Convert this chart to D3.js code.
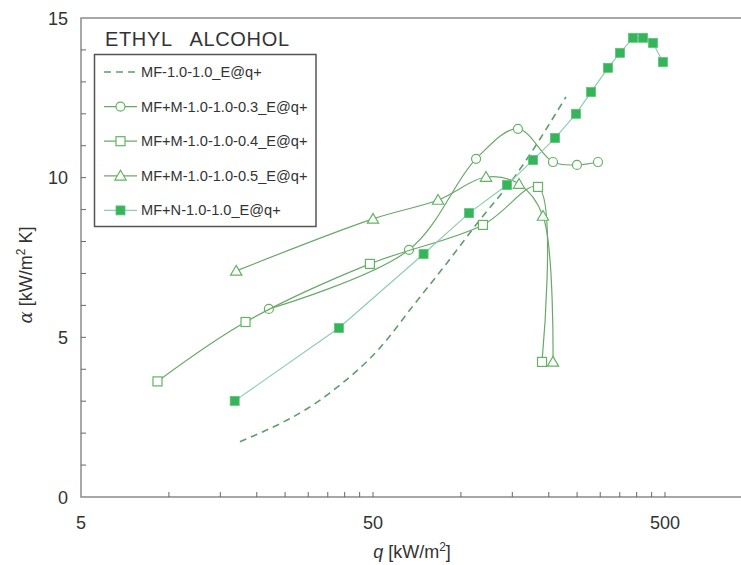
<!DOCTYPE html>
<html lang="en">
<head>
<meta charset="utf-8">
<title>Ethyl alcohol</title>
<script src="https://d3js.org/d3.v7.min.js"></script>
<style>
  body { margin: 0; background: #fff; }
  text { font-family: "Liberation Sans", Arial, sans-serif; fill: #333; }
</style>
</head>
<body>
<script>
// data
var qCorr = [17.5, 35.6, 52.8, 68.5, 89.6, 116.2, 150.8, 229];
var aCorr = [1.73, 3.26, 4.67, 5.98, 7.33, 8.68, 9.96, 12.53];

var q03 = [22.0, 66.4, 112.7, 156.8, 206.7, 249.7, 294.8];
var a03 = [5.89, 7.74, 10.59, 11.53, 10.49, 10.40, 10.49];

var q04 = [9.14, 18.3, 48.8, 119.0, 183.7, 189.6];
var a04 = [3.62, 5.48, 7.30, 8.52, 9.71, 4.23];

var q05 = [17.0, 50.0, 83.5, 121.9, 158.1, 191.0, 206.7];
var a05 = [7.08, 8.71, 9.30, 10.02, 9.80, 8.80, 4.23];

var qN = [16.8, 38.2, 74.5, 106.6, 143.8, 176.6, 210, 247.8, 279, 319, 350.7, 388.6, 420.5, 454.9, 492];
var aN = [3.01, 5.29, 7.61, 8.89, 9.77, 10.55, 11.24, 12.0, 12.68, 13.44, 13.91, 14.38, 14.38, 14.22, 13.62];

var legendNames = ["MF-1.0-1.0_E@q+", "MF+M-1.0-1.0-0.3_E@q+", "MF+M-1.0-1.0-0.4_E@q+",
                   "MF+M-1.0-1.0-0.5_E@q+", "MF+N-1.0-1.0_E@q+"];
var xTickLabels = [5, 50, 500];
var yTickLabels = [0, 5, 10, 15];

var w = 741, h = 565;
var lineGreen = "#6aa86a", markGreen = "#62b462";

var x = d3.scaleLog().domain([5, 1000]).range([81, 81 + 292 * Math.log10(200)]);
var y = d3.scaleLinear().domain([0, 15]).range([497, 18]);

var svg = d3.select("body").append("svg").attr("width", w).attr("height", h);

// frame
svg.append("rect")
  .attr("x", x(5)).attr("y", y(15))
  .attr("width", x(1000) - x(5)).attr("height", y(0) - y(15))
  .attr("fill", "none").attr("stroke", "#8a8a8a").attr("stroke-width", 1.5);

// inward ticks
var xMinor = d3.range(10, 51, 5).concat(d3.range(100, 501, 50));
svg.append("g").selectAll("line").data(xMinor).enter().append("line")
  .attr("x1", d => x(d)).attr("x2", d => x(d))
  .attr("y1", y(0)).attr("y2", y(0) - 5)
  .attr("stroke", "#666").attr("stroke-width", 1);
svg.append("g").selectAll("line").data(d3.range(1, 15)).enter().append("line")
  .attr("x1", x(5)).attr("x2", x(5) + 5)
  .attr("y1", d => y(d)).attr("y2", d => y(d))
  .attr("stroke", "#666").attr("stroke-width", 1);

// tick labels
svg.append("g").selectAll("text").data(xTickLabels).enter().append("text")
  .attr("x", d => x(d)).attr("y", 529)
  .attr("text-anchor", "middle").style("font-size", "18px")
  .text(d => d);
svg.append("g").selectAll("text").data(yTickLabels).enter().append("text")
  .attr("x", 68).attr("y", d => y(d) + 6.5)
  .attr("text-anchor", "end").style("font-size", "18px")
  .text(d => d);

// axis titles
var xt = svg.append("text").attr("x", 412).attr("y", 558)
  .attr("text-anchor", "middle").style("font-size", "18px");
xt.append("tspan").style("font-style", "italic").text("q");
xt.append("tspan").text(" [kW/m");
xt.append("tspan").attr("dy", -7).style("font-size", "12px").text("2");
xt.append("tspan").attr("dy", 7).text("]");

var yt = svg.append("text").attr("transform", "translate(32,275) rotate(-90)")
  .attr("text-anchor", "middle").style("font-size", "18px");
yt.append("tspan").style("font-style", "italic").style("font-family", "DejaVu Serif").text("α");
yt.append("tspan").text(" [kW/m");
yt.append("tspan").attr("dy", -7).style("font-size", "12px").text("2");
yt.append("tspan").attr("dy", 7).text(" K]");

// series
var series = [
  {q: qCorr, a: aCorr, color: "#5f9e6c", dash: "7,5", marker: null, curve: d3.curveMonotoneX},
  {q: q03, a: a03, color: lineGreen, marker: "circle", curve: d3.curveCatmullRom.alpha(0.5)},
  {q: q04, a: a04, color: lineGreen, marker: "square", curve: d3.curveCatmullRom.alpha(0.5)},
  {q: q05, a: a05, color: lineGreen, marker: "triangle", curve: d3.curveCatmullRom.alpha(0.5)},
  {q: qN, a: aN, color: "#8fcdb0", marker: "filled", curve: d3.curveLinear}
];

function drawMarker(g, type, cx, cy) {
  if (type === "circle") {
    g.append("circle").attr("cx", cx).attr("cy", cy).attr("r", 4.5)
      .attr("fill", "#fff").attr("stroke", markGreen).attr("stroke-width", 1.2);
  } else if (type === "square") {
    g.append("rect").attr("x", cx - 4.5).attr("y", cy - 4.5).attr("width", 9).attr("height", 9)
      .attr("fill", "#fff").attr("stroke", markGreen).attr("stroke-width", 1.2);
  } else if (type === "triangle") {
    g.append("path").attr("d", d3.symbol().type(d3.symbolTriangle).size(55)())
      .attr("transform", "translate(" + cx + "," + (cy + 1) + ")")
      .attr("fill", "#fff").attr("stroke", markGreen).attr("stroke-width", 1.2);
  } else if (type === "filled") {
    g.append("rect").attr("x", cx - 4.5).attr("y", cy - 4.5).attr("width", 9).attr("height", 9)
      .attr("fill", "#34b55a").attr("stroke", "#5cc47a").attr("stroke-width", 0.8);
  }
}

series.forEach(function(s) {
  var pts = s.q.map((d, i) => [x(d), y(s.a[i])]);
  var line = d3.line().curve(s.curve);
  svg.append("path").attr("d", line(pts))
    .attr("fill", "none").attr("stroke", s.color).attr("stroke-width", s.dash ? 1.6 : 1.2)
    .attr("stroke-dasharray", s.dash || null);
  if (s.marker) {
    var g = svg.append("g");
    pts.forEach(p => drawMarker(g, s.marker, p[0], p[1]));
  }
});

// legend
svg.append("text").attr("x", 105).attr("y", 46)
  .attr("textLength", 184).attr("lengthAdjust", "spacing")
  .style("font-size", "20px").style("white-space", "pre")
  .text("ETHYL   ALCOHOL");
svg.append("rect").attr("x", 94.5).attr("y", 54.5).attr("width", 221.5).attr("height", 172)
  .attr("fill", "#fff").attr("stroke", "#555").attr("stroke-width", 1.5);
var lg = svg.append("g");
legendNames.forEach(function(name, i) {
  var cy = 72 + i * 34.6;
  var s = series[i];
  lg.append("line").attr("x1", 104).attr("x2", 137).attr("y1", cy).attr("y2", cy)
    .attr("stroke", s.color).attr("stroke-width", s.dash ? 1.6 : 1.2)
    .attr("stroke-dasharray", s.dash || null);
  if (s.marker) drawMarker(lg, s.marker, 120.5, cy);
  lg.append("text").attr("x", 141).attr("y", cy + 5)
    .style("font-size", "14.6px").text(name);
});
</script>
</body>
</html>
